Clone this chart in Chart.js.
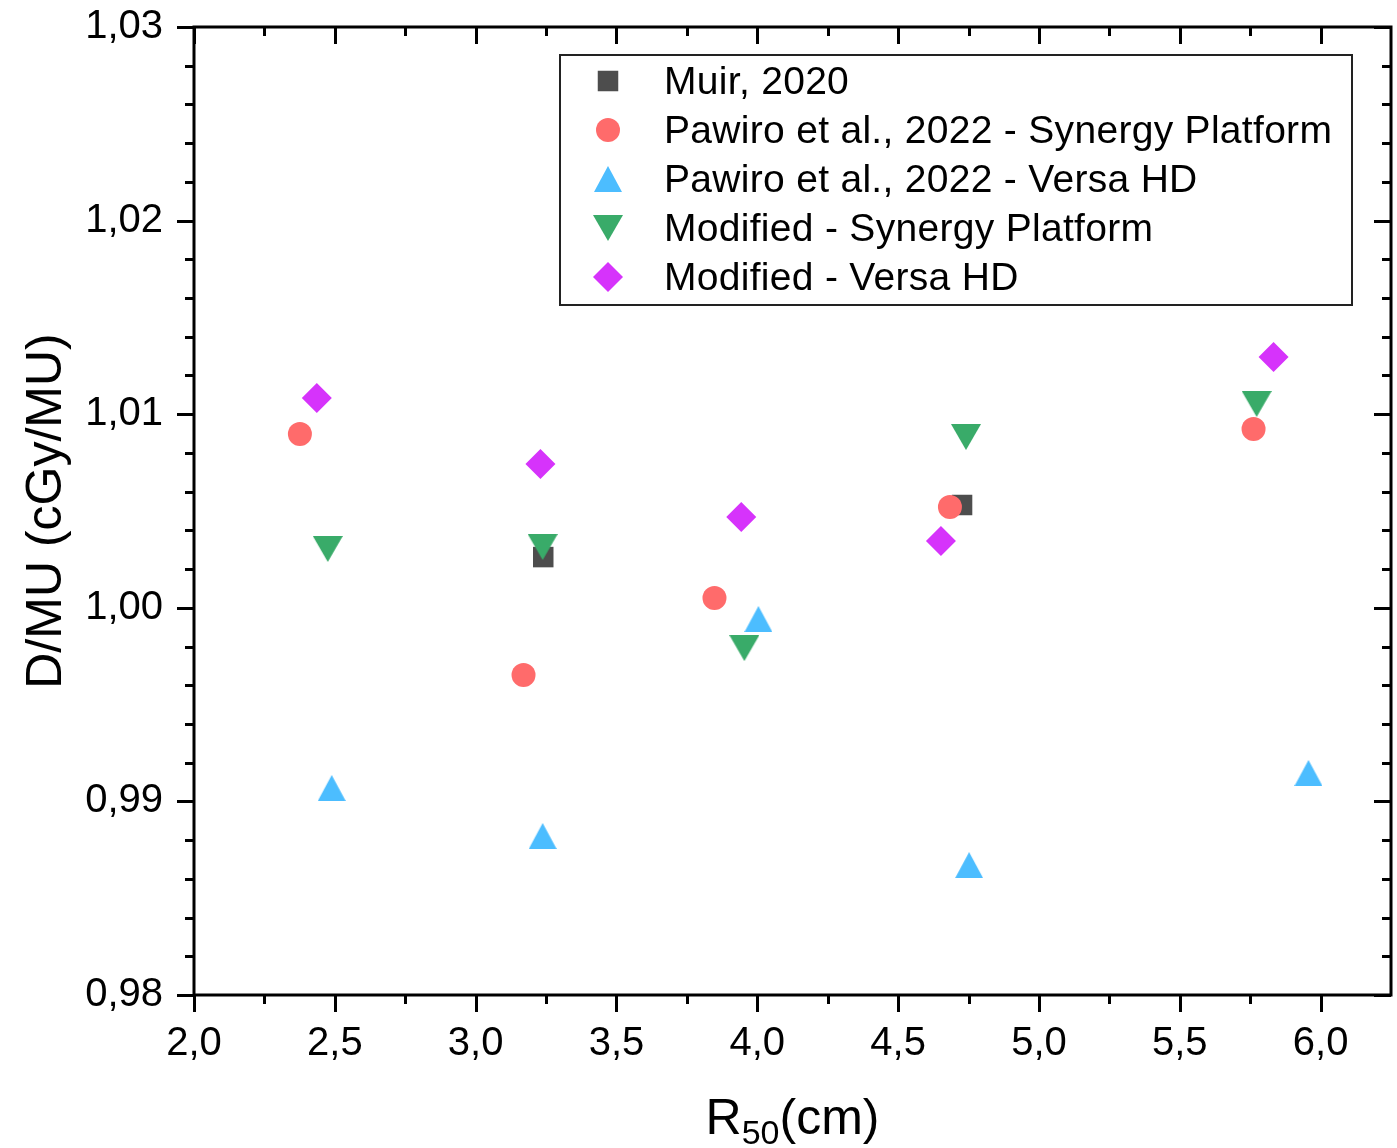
<!DOCTYPE html>
<html lang="en">
<head>
    <meta charset="UTF-8">
    <title>D/MU vs R50</title>
    <script src="https://cdnjs.cloudflare.com/ajax/libs/Chart.js/4.4.1/chart.umd.min.js"></script>
    <style>
        * {
            margin: 0;
            padding: 0;
            box-sizing: border-box;
        }

        html, body {
            background: #fff;
            overflow: hidden;
        }

        #doseChart {
            display: block;
        }
    </style>
</head>
<body>
    <canvas id="doseChart" width="1397" height="1148"></canvas>

    <script>
        // values
        const muirX = [3.240, 4.727];
        const muirY = [1.00262, 1.00531];

        const pawiroSynX = [2.376, 3.170, 3.848, 4.684, 5.762];
        const pawiroSynY = [1.00898, 0.99653, 1.00051, 1.00521, 1.00924];

        const pawiroVersaX = [2.489, 3.238, 4.004, 4.752, 5.957];
        const pawiroVersaY = [0.99069, 0.98821, 0.99942, 0.98671, 0.99147];

        const modSynX = [2.475, 3.238, 3.954, 4.741, 5.773];
        const modSynY = [1.00304, 1.00314, 0.99792, 1.00882, 1.01053];

        const modVersaX = [2.436, 3.230, 3.943, 4.652, 5.833];
        const modVersaY = [1.01084, 1.00743, 1.00469, 1.00345, 1.01295];

        const seriesNames = [
            'Muir, 2020',
            'Pawiro et al., 2022 - Synergy Platform',
            'Pawiro et al., 2022 - Versa HD',
            'Modified - Synergy Platform',
            'Modified - Versa HD'
        ];

        const xTickValues = [2.0, 2.5, 3.0, 3.5, 4.0, 4.5, 5.0, 5.5, 6.0];
        const xTickLabels = ['2,0', '2,5', '3,0', '3,5', '4,0', '4,5', '5,0', '5,5', '6,0'];
        const yTickValues = [0.98, 0.99, 1.00, 1.01, 1.02, 1.03];
        const yTickLabels = ['0,98', '0,99', '1,00', '1,01', '1,02', '1,03'];

        const FONT = '"Liberation Sans", Arial, sans-serif';

        function zip(xs, ys) {
            return xs.map((x, i) => ({ x: x, y: ys[i] }));
        }

        // triangles as small canvases so they sit centred on the value
        function triangleMarker(w, h, color, down) {
            const c = document.createElement('canvas');
            c.width = w;
            c.height = h;
            const g = c.getContext('2d');
            g.fillStyle = color;
            g.beginPath();
            if (down) {
                g.moveTo(0, 0);
                g.lineTo(w, 0);
                g.lineTo(w / 2, h);
            } else {
                g.moveTo(w / 2, 0);
                g.lineTo(w, h);
                g.lineTo(0, h);
            }
            g.closePath();
            g.fill();
            return c;
        }

        const upTri = triangleMarker(28, 26, '#4cbdff', false);
        const downTri = triangleMarker(30, 26, '#39ab69', true);

        const styles = [
            { color: '#4d4d4d', pointStyle: 'rect', radius: 14.5 },
            { color: '#ff6b6b', pointStyle: 'circle', radius: 12 },
            { color: '#4cbdff', pointStyle: upTri, radius: 14 },
            { color: '#39ab69', pointStyle: downTri, radius: 14 },
            { color: '#d633fb', pointStyle: 'rectRot', radius: 15 }
        ];

        const seriesData = [
            zip(muirX, muirY),
            zip(pawiroSynX, pawiroSynY),
            zip(pawiroVersaX, pawiroVersaY),
            zip(modSynX, modSynY),
            zip(modVersaX, modVersaY)
        ];

        const datasets = seriesData.map((d, i) => ({
            label: seriesNames[i],
            data: d,
            pointStyle: styles[i].pointStyle,
            pointRadius: styles[i].radius,
            pointBackgroundColor: styles[i].color,
            pointBorderWidth: 0,
            backgroundColor: styles[i].color,
            showLine: false,
            order: seriesNames.length - i
        }));

        // frame, inner/outer ticks, x title with subscript and the boxed legend
        const decorations = {
            id: 'decorations',
            afterDatasetsDraw(chart) {
                const ctx = chart.ctx;
                const a = chart.chartArea;
                const xs = chart.scales.x;
                const ys = chart.scales.y;

                ctx.save();
                ctx.strokeStyle = '#000';
                ctx.lineWidth = 3;
                ctx.lineCap = 'butt';

                // x ticks every 0.25, major every 0.5
                for (let i = 0; i <= 16; i++) {
                    const px = Math.round(xs.getPixelForValue(2 + i * 0.25)) + 0.5;
                    const len = i % 2 === 0 ? 17 : 9;
                    ctx.beginPath();
                    ctx.moveTo(px, a.bottom);
                    ctx.lineTo(px, a.bottom + len);
                    ctx.moveTo(px, a.top);
                    ctx.lineTo(px, a.top + len);
                    ctx.stroke();
                }
                // y ticks every 0.002, major every 0.01
                for (let i = 0; i <= 25; i++) {
                    const py = Math.round(ys.getPixelForValue(0.98 + i * 0.002)) + 0.5;
                    const len = i % 5 === 0 ? 17 : 9;
                    ctx.beginPath();
                    ctx.moveTo(a.left, py);
                    ctx.lineTo(a.left - len, py);
                    ctx.moveTo(a.right, py);
                    ctx.lineTo(a.right - len, py);
                    ctx.stroke();
                }
                ctx.strokeRect(a.left, a.top, a.right - a.left, a.bottom - a.top);

                // x axis title: R50(cm) with subscript
                const cx = (a.left + a.right) / 2;
                ctx.fillStyle = '#000';
                ctx.textBaseline = 'alphabetic';
                ctx.textAlign = 'left';
                ctx.font = '50px ' + FONT;
                const wR = ctx.measureText('R').width;
                const wCm = ctx.measureText('(cm)').width;
                ctx.font = '34px ' + FONT;
                const wSub = ctx.measureText('50').width;
                let tx = cx - (wR + wSub + wCm) / 2;
                const base = 1134;
                ctx.font = '50px ' + FONT;
                ctx.fillText('R', tx, base);
                tx += wR;
                ctx.font = '34px ' + FONT;
                ctx.fillText('50', tx, base + 10);
                tx += wSub;
                ctx.font = '50px ' + FONT;
                ctx.fillText('(cm)', tx, base);

                // legend box
                const box = { left: a.left + 366, top: a.top + 28, width: 792, height: 250 };
                ctx.lineWidth = 2;
                ctx.strokeStyle = '#222';
                ctx.fillStyle = '#fff';
                ctx.fillRect(box.left, box.top, box.width, box.height);
                ctx.strokeRect(box.left, box.top, box.width, box.height);

                ctx.font = '39px ' + FONT;
                ctx.letterSpacing = '0.3px';
                ctx.textBaseline = 'middle';
                for (let i = 0; i < seriesNames.length; i++) {
                    const ly = box.top + 26 + i * 49;
                    ctx.fillStyle = styles[i].color;
                    Chart.helpers.drawPoint(ctx, {
                        pointStyle: styles[i].pointStyle,
                        radius: styles[i].radius,
                        rotation: 0,
                        borderWidth: 0
                    }, box.left + 48, ly);
                    ctx.fillStyle = '#000';
                    ctx.fillText(seriesNames[i], box.left + 104, ly + 2);
                }
                ctx.restore();
            }
        };

        const ctx = document.getElementById('doseChart').getContext('2d');
        const doseChart = new Chart(ctx, {
            type: 'scatter',
            data: { datasets: datasets },
            plugins: [decorations],
            options: {
                responsive: false,
                animation: false,
                events: [],
                layout: {
                    autoPadding: false,
                    padding: { top: 27, right: 6, left: 0, bottom: 0 }
                },
                plugins: {
                    legend: { display: false },
                    tooltip: { enabled: false }
                },
                scales: {
                    x: {
                        type: 'linear',
                        min: 2.0,
                        max: 6.25,
                        grid: { display: false, drawTicks: false },
                        border: { display: false },
                        afterBuildTicks: s => {
                            s.ticks = xTickValues.map(v => ({ value: v }));
                        },
                        afterFit: s => {
                            s.height = 153;
                            s.paddingLeft = 0;
                            s.paddingRight = 0;
                        },
                        ticks: {
                            padding: 25,
                            maxRotation: 0,
                            color: '#000',
                            font: { family: FONT, size: 40 },
                            callback: (v, i) => xTickLabels[i]
                        }
                    },
                    y: {
                        type: 'linear',
                        min: 0.98,
                        max: 1.03,
                        grid: { display: false, drawTicks: false },
                        border: { display: false },
                        afterBuildTicks: s => {
                            s.ticks = yTickValues.map(v => ({ value: v }));
                        },
                        afterFit: s => {
                            s.width = 194;
                            s.paddingTop = 0;
                            s.paddingBottom = 0;
                        },
                        title: {
                            display: true,
                            text: 'D/MU (cGy/MU)',
                            color: '#000',
                            font: { family: FONT, size: 50 },
                            padding: { top: 17, bottom: 0 }
                        },
                        ticks: {
                            padding: 31,
                            color: '#000',
                            font: { family: FONT, size: 40 },
                            callback: (v, i) => yTickLabels[i]
                        }
                    }
                }
            }
        });
    </script>
</body>
</html>
